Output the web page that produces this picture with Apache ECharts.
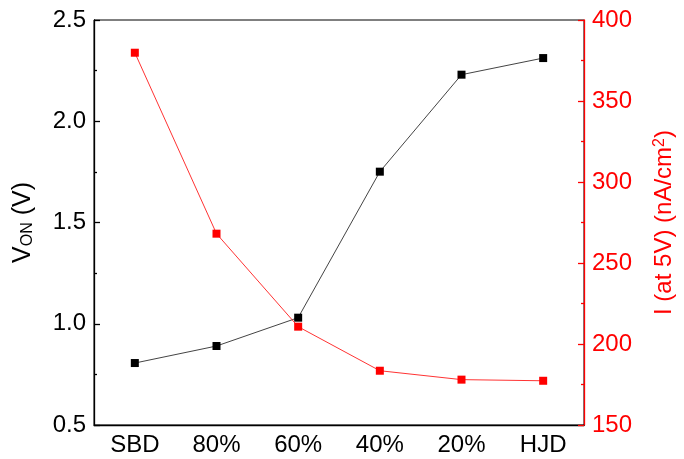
<!DOCTYPE html>
<html><head><meta charset="utf-8">
<script src="https://cdn.jsdelivr.net/npm/echarts@6/dist/echarts.min.js"></script>
<style>html,body{margin:0;padding:0;background:#fff}#c{width:684px;height:459px}</style>
</head><body><div id="c"></div>
<script>
const categories = ['SBD', '80%', '60%', '40%', '20%', 'HJD'];
const vonValues = [0.806, 0.890, 1.030, 1.751, 2.230, 2.312];
const currentValues = [379.8, 268.1, 210.7, 183.5, 178.0, 177.3];

const FONT = '"Liberation Sans", Arial, sans-serif';
const chart = echarts.init(document.getElementById('c'), null, {renderer: 'canvas'});
chart.setOption({
  animation: false,
  backgroundColor: '#fff',
  grid: {left: 94, right: 86, top: 20, bottom: 34, show: true, borderColor: '#000', borderWidth: 1, backgroundColor: 'transparent'},
  xAxis: {
    type: 'category', data: categories, boundaryGap: true,
    axisLine: {lineStyle: {color: '#000', width: 1.3}},
    axisTick: {inside: true, alignWithLabel: true, length: 6, lineStyle: {color: '#000', width: 1.3}},
    axisLabel: {color: '#000', fontSize: 24, fontFamily: FONT, margin: 8},
    splitLine: {show: false}
  },
  yAxis: [{
    type: 'value', min: 0.5, max: 2.5, interval: 0.5, position: 'left',
    name: '{m|V}{s|ON}{m| (V)}', nameLocation: 'middle', nameGap: 58, nameRotate: 90,
    nameTextStyle: {color: '#000', fontFamily: FONT, rich: {
      m: {fontSize: 25, fontFamily: FONT, color: '#000'},
      s: {fontSize: 16, fontFamily: FONT, color: '#000', verticalAlign: 'bottom', padding: [10, 0, 0, 0]}
    }},
    axisLine: {show: true, lineStyle: {color: '#000', width: 1.3}},
    axisTick: {show: true, inside: true, length: 6, lineStyle: {color: '#000', width: 1.3}},
    minorTick: {show: true, splitNumber: 2, length: 3, lineStyle: {color: '#000', width: 1.3}},
    axisLabel: {color: '#000', fontSize: 24, fontFamily: FONT, margin: 8, formatter: v => v.toFixed(1)},
    splitLine: {show: false}
  }, {
    type: 'value', min: 150, max: 400, interval: 50, position: 'right',
    name: '{m|I (at 5V) (nA/cm}{p|2}{m|)}', nameLocation: 'middle', nameGap: 68, nameRotate: 90,
    nameTextStyle: {color: '#f00', fontFamily: FONT, rich: {
      m: {fontSize: 24, fontFamily: FONT, color: '#f00'},
      p: {fontSize: 16, fontFamily: FONT, color: '#f00', verticalAlign: 'top', padding: [0, 0, 8, 0]}
    }},
    axisLine: {show: true, lineStyle: {color: '#f00', width: 1.3}},
    axisTick: {show: true, inside: true, length: 6, lineStyle: {color: '#f00', width: 1.3}},
    minorTick: {show: true, splitNumber: 2, length: 3, lineStyle: {color: '#f00', width: 1.3}},
    axisLabel: {color: '#f00', fontSize: 24, fontFamily: FONT, margin: 8},
    splitLine: {show: false}
  }],
  series: [{
    type: 'line', yAxisIndex: 0, data: vonValues,
    symbol: 'rect', symbolSize: 8, itemStyle: {color: '#000'},
    lineStyle: {color: '#444', width: 1}
  }, {
    type: 'line', yAxisIndex: 1, data: currentValues,
    symbol: 'rect', symbolSize: 8, itemStyle: {color: '#f00'},
    lineStyle: {color: '#f33', width: 1}
  }]
});
</script></body></html>
